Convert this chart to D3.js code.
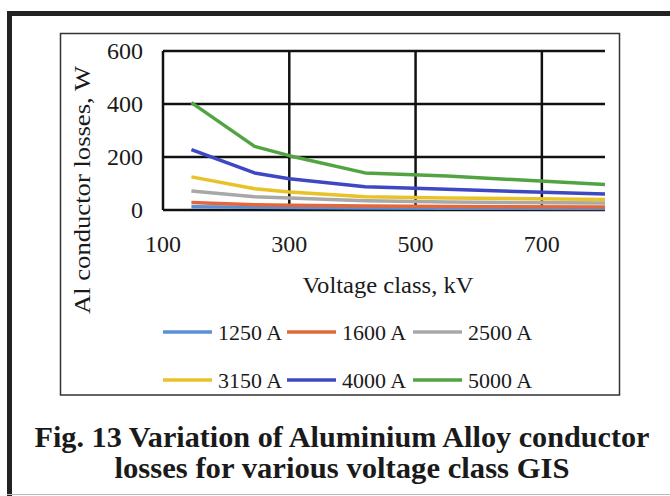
<!DOCTYPE html>
<html>
<head>
<meta charset="utf-8">
<script src="https://cdn.jsdelivr.net/npm/d3@7"></script>
<style>
  body { margin: 0; background: #fff; }
  svg { display: block; }
  text { font-family: "Liberation Serif", "Times New Roman", serif; fill: #1a1a1a; }
</style>
</head>
<body>
<svg width="670" height="496"></svg>
<script>
// voltage classes (kV) and losses (W) per current rating
const voltages = [145, 245, 300, 420, 550, 800];
const loss1250 = [12, 10, 9, 8, 7, 6];
const loss1600 = [28, 20, 18, 15, 13, 11];
const loss2500 = [72, 50, 45, 35, 30, 26];
const loss3150 = [125, 80, 68, 50, 45, 40];
const loss4000 = [228, 140, 118, 88, 78, 60];
const loss5000 = [405, 240, 205, 140, 128, 96];

const seriesNames = ["1250 A", "1600 A", "2500 A", "3150 A", "4000 A", "5000 A"];
const seriesValues = [loss1250, loss1600, loss2500, loss3150, loss4000, loss5000];
const colors = ["#5b8fd6", "#e2673a", "#a8a8a8", "#e9c228", "#3d48c2", "#52a443"];

const xTicks = [100, 300, 500, 700];
const yTicks = [0, 200, 400, 600];

const svg = d3.select("svg");

// outer frame
svg.append("rect").attr("x", 7).attr("y", 11).attr("width", 5).attr("height", 485).attr("fill", "#222");
svg.append("rect").attr("x", 7).attr("y", 11).attr("width", 663).attr("height", 5).attr("fill", "#222");
svg.append("line").attr("x1", 7).attr("x2", 670).attr("y1", 494.5).attr("y2", 494.5)
    .attr("stroke", "#bbb").attr("stroke-width", 1);

// inner chart box
svg.append("rect").attr("x", 60.5).attr("y", 33.5).attr("width", 559).attr("height", 361.5)
    .attr("fill", "none").attr("stroke", "#333").attr("stroke-width", 1.5);

const x = d3.scaleLinear().domain([100, 800]).range([163, 605]);
const y = d3.scaleLinear().domain([0, 600]).range([210, 51]);

// grid
const grid = svg.append("g");
grid.selectAll("line.h").data(yTicks).enter().append("line")
    .attr("x1", x(100)).attr("x2", x(800))
    .attr("y1", d => y(d)).attr("y2", d => y(d))
    .attr("stroke", "#111").attr("stroke-width", 2.5);
grid.selectAll("line.v").data(xTicks).enter().append("line")
    .attr("x1", d => x(d)).attr("x2", d => x(d))
    .attr("y1", y(600)).attr("y2", y(0))
    .attr("stroke", "#111").attr("stroke-width", 2.5);

// tick labels
svg.append("g").selectAll("text").data(yTicks).enter().append("text")
    .attr("x", 143).attr("y", d => y(d)).attr("dy", "0.35em")
    .attr("text-anchor", "end").attr("font-size", 24).text(d => d);
svg.append("g").selectAll("text").data(xTicks).enter().append("text")
    .attr("x", d => x(d)).attr("y", 252)
    .attr("text-anchor", "middle").attr("font-size", 24).text(d => d);

// axis titles
svg.append("text").attr("x", 388).attr("y", 293).attr("text-anchor", "middle")
    .attr("font-size", 24).attr("textLength", 171).attr("lengthAdjust", "spacingAndGlyphs")
    .text("Voltage class, kV");
svg.append("text").attr("transform", "translate(90,190) rotate(-90)")
    .attr("text-anchor", "middle").attr("font-size", 24)
    .attr("textLength", 248).attr("lengthAdjust", "spacingAndGlyphs")
    .text("Al conductor losses, W");

// series lines
const line = d3.line().x((d, i) => x(voltages[i])).y(d => y(d));
svg.append("g").selectAll("path").data(seriesValues).enter().append("path")
    .attr("d", d => line(d))
    .attr("fill", "none")
    .attr("stroke", (d, i) => colors[i])
    .attr("stroke-width", 3.5)
    .attr("stroke-linejoin", "round");

// legend
const legX = [163, 287, 413];
const legY = [332, 380];
const leg = svg.append("g").selectAll("g").data(seriesNames).enter().append("g")
    .attr("transform", (d, i) => `translate(${legX[i % 3]},${legY[Math.floor(i / 3)]})`);
leg.append("line").attr("x1", 0).attr("x2", 49).attr("y1", 0).attr("y2", 0)
    .attr("stroke", (d, i) => colors[i]).attr("stroke-width", 3.5);
leg.append("text").attr("x", 55).attr("dy", "0.35em").attr("font-size", 22)
    .attr("textLength", 64).attr("lengthAdjust", "spacingAndGlyphs").text(d => d);

// caption
svg.append("text").attr("x", 342).attr("y", 447).attr("text-anchor", "middle")
    .attr("font-weight", "bold").attr("font-size", 29)
    .attr("textLength", 615).attr("lengthAdjust", "spacingAndGlyphs")
    .text("Fig. 13 Variation of Aluminium Alloy conductor");
svg.append("text").attr("x", 342).attr("y", 478).attr("text-anchor", "middle")
    .attr("font-weight", "bold").attr("font-size", 29)
    .attr("textLength", 455).attr("lengthAdjust", "spacingAndGlyphs")
    .text("losses for various voltage class GIS");
</script>
</body>
</html>
